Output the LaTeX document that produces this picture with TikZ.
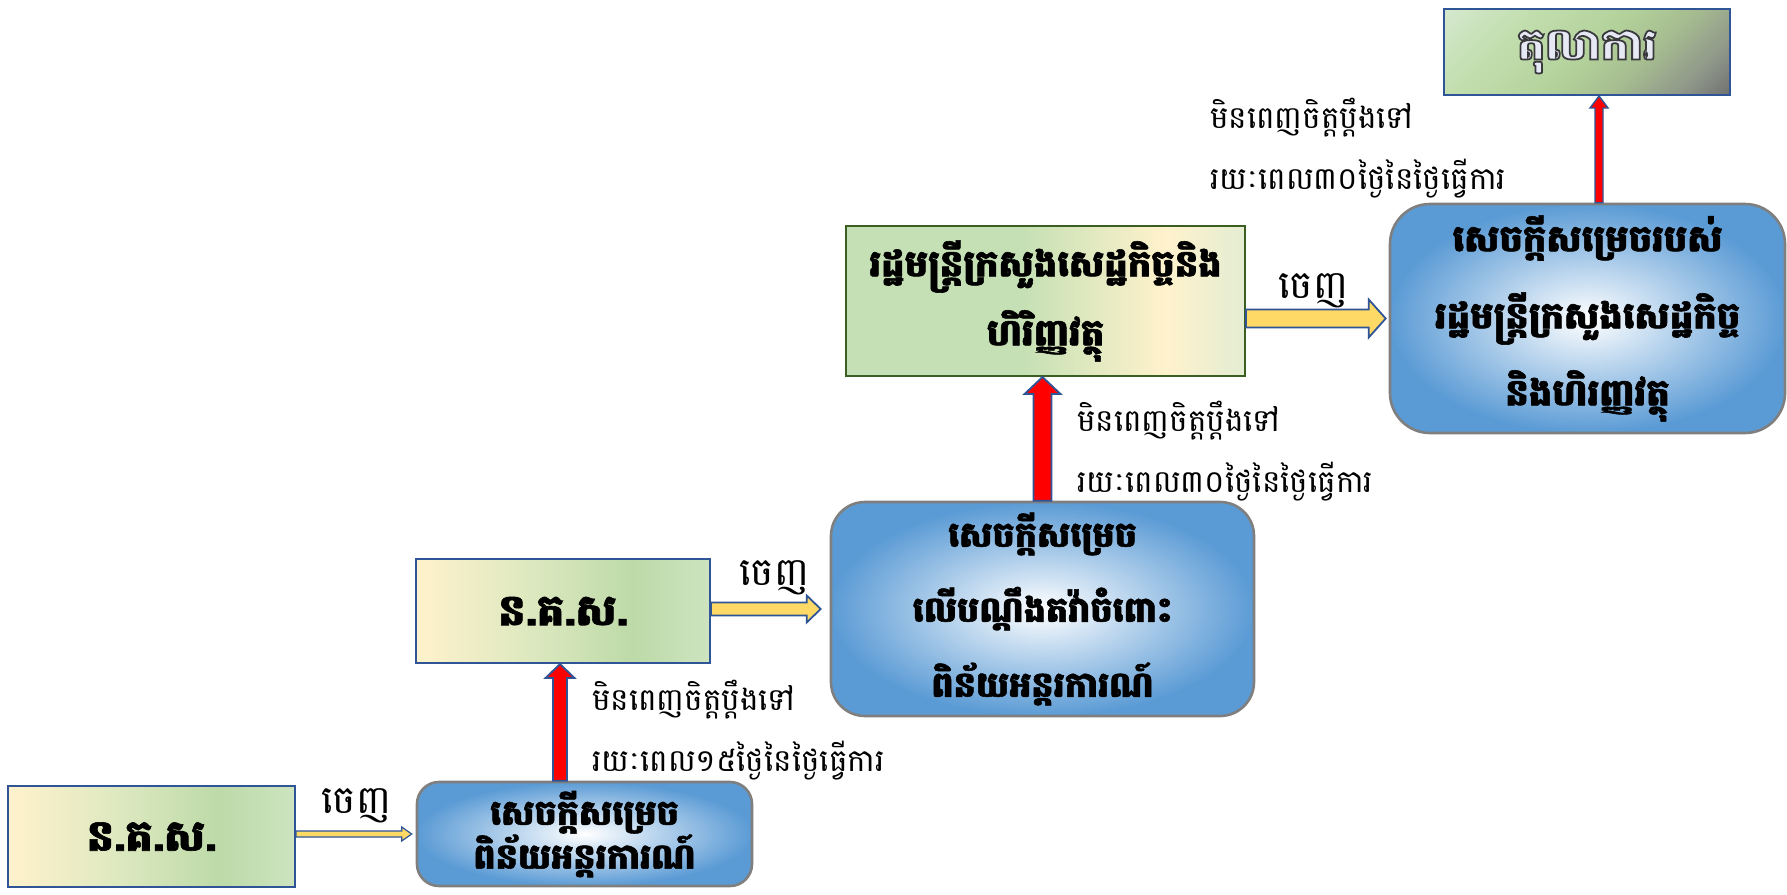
\documentclass[tikz,border=0pt]{standalone}
\usepackage{fontspec}
\newfontfamily\kh[Script=Khmer, BoldFeatures={FakeBold=1.5}]{Battambang}
\newfontfamily\khout[Script=Khmer, BoldFeatures={FakeBold=4}]{Battambang}
\usetikzlibrary{calc}
\definecolor{bordblue}{HTML}{2F5597}
\definecolor{bordgreen}{HTML}{3B5E23}
\definecolor{bordgray}{HTML}{7F7F7F}
\definecolor{boxblue}{HTML}{5B9BD5}
\definecolor{cream}{HTML}{FFF2CC}
\definecolor{midgreen}{HTML}{DCE8BF}
\definecolor{green1}{HTML}{BDDAA8}
\definecolor{green2}{HTML}{CDE4C0}
\definecolor{egreen}{HTML}{C5E0B4}
\definecolor{eright}{HTML}{E4EDD3}
\definecolor{gc1}{HTML}{D4E8CD}
\definecolor{gc2}{HTML}{C2DEAE}
\definecolor{gc3}{HTML}{B3D29B}
\definecolor{gc4}{HTML}{A7BE90}
\definecolor{gc5}{HTML}{90998A}
\definecolor{gc6}{HTML}{6F6F6F}
\definecolor{arryellow}{HTML}{FFD966}
\definecolor{outfill}{HTML}{E6E8F4}
\pgfdeclarehorizontalshading{creamgreen}{100bp}{color(0bp)=(cream); color(25bp)=(cream); color(45bp)=(midgreen); color(62bp)=(green1); color(75bp)=(green2); color(100bp)=(green2)}
\pgfdeclarehorizontalshading{greencream}{100bp}{color(0bp)=(egreen); color(25bp)=(egreen); color(47bp)=(egreen); color(65bp)=(cream); color(75bp)=(eright); color(100bp)=(eright)}
\pgfdeclarehorizontalshading{courtshade}{100bp}{color(0bp)=(gc1); color(15bp)=(gc1); color(32bp)=(gc2); color(50bp)=(gc3); color(62bp)=(gc4); color(75bp)=(gc5); color(86bp)=(gc6); color(100bp)=(gc6)}
% light glyphs with a dark stroked outline
\newcommand\khoutline[1]{{\khout\bfseries\color{outfill}\special{pdf:literal direct 0.22 0.22 0.24 RG}#1}}
\newcommand\harr[7]{%
  \path[#1] let \p1=(#2), \p2=(#3) in
    (\x1,\y2+#4) -- (\x2-#7-#6,\y2+#4) -- (\x2-#7-#6,\y2+#5) -- (\x2-#7,\y2)
    -- (\x2-#7-#6,\y2-#5) -- (\x2-#7-#6,\y2-#4) -- (\x1,\y2-#4) -- cycle;}
\newcommand\varr[7]{%
  \path[#1] let \p1=(#2), \p2=(#3) in
    (\x2+#4-#5,\y1) -- (\x2+#4-#5,\y2-#7) -- (\x2+#4-#6,\y2-#7) -- (\x2+#4,\y2)
    -- (\x2+#4+#6,\y2-#7) -- (\x2+#4+#5,\y2-#7) -- (\x2+#4+#5,\y1) -- cycle;}
\tikzset{
  greenbox/.style={draw=bordblue, line width=2pt, shade, shading=creamgreen, inner sep=0pt},
  bluebox/.style={draw=bordgray, line width=2.6pt, inner color=white, outer color=boxblue, inner sep=0pt},
  boxtext/.style={font=\kh\bfseries\fontsize{37}{40}\selectfont, align=center, text=black},
  lbl/.style={font=\kh\fontsize{31}{61}\selectfont, align=left, inner sep=0pt, text=black},
  outlbl/.style={font=\kh\fontsize{39}{40}\selectfont, inner sep=0pt, text=black},
  redarr/.style={fill=red, draw=bordblue, line width=1.8pt},
  yelarr/.style={fill=arryellow, draw=bordblue, line width=1.8pt},
}
\begin{document}
\begin{tikzpicture}[x=1pt,y=-1pt]
\useasboundingbox (0,0) rectangle (1787,894);
\fill[white] (0,0) rectangle (1787,894);
% boxes
\node[greenbox, boxtext, minimum width=287pt, minimum height=101pt, font=\kh\bfseries\fontsize{43}{45}\selectfont] (A) at (151.5,836.5) {ន.គ.ស.};
\node[bluebox, boxtext, rounded corners=22pt, minimum width=335pt, minimum height=104pt, font=\kh\bfseries\fontsize{35}{37}\selectfont] (B) at (584.5,834) {សេចក្តីសម្រេច\\ពិន័យអន្តរការណ៍};
\node[greenbox, boxtext, minimum width=294pt, minimum height=104pt, font=\kh\bfseries\fontsize{43}{45}\selectfont] (C) at (563,611) {ន.គ.ស.};
\node[bluebox, boxtext, rounded corners=34pt, minimum width=423pt, minimum height=214pt, font=\kh\bfseries\fontsize{35}{75}\selectfont] (D) at (1042.5,609) {សេចក្តីសម្រេច\\លើបណ្តឹងតវ៉ាចំពោះ\\ពិន័យអន្តរការណ៍};
\node[greenbox, boxtext, draw=bordgreen, shading=greencream, minimum width=399pt, minimum height=150pt, font=\kh\bfseries\fontsize{37}{69}\selectfont] (E) at (1045.5,301) {រដ្ឋមន្ត្រីក្រសួងសេដ្ឋកិច្ចនិង\\ហិរិញ្ញវត្ថុ};
\node[bluebox, boxtext, rounded corners=40pt, minimum width=395pt, minimum height=229pt, font=\kh\bfseries\fontsize{37}{77}\selectfont] (F) at (1587.5,318.5) {សេចក្តីសម្រេចរបស់\\រដ្ឋមន្ត្រីក្រសួងសេដ្ឋកិច្ច\\និងហិរញ្ញវត្ថុ};
\node[greenbox, boxtext, shading=courtshade, shading angle=-45, minimum width=286pt, minimum height=86pt, font=\khout\bfseries\fontsize{44}{46}\selectfont] (G) at (1587,52) {\khoutline{តុលាការ}};
% labels
\node[outlbl] (o1) at (356,806) {ចេញ};
\node[outlbl] (o2) at (774,578) {ចេញ};
\node[outlbl] (o3) at (1313,291) {ចេញ};
\node[lbl, anchor=west] (m1) at (592,730) {មិនពេញចិត្តប្តឹងទៅ\\រយៈពេល១៥ថ្ងៃនៃថ្ងៃធ្វើការ};
\node[lbl, anchor=west] (m2) at (1077,451.5) {មិនពេញចិត្តប្តឹងទៅ\\រយៈពេល៣០ថ្ងៃនៃថ្ងៃធ្វើការ};
\node[lbl, anchor=west] (m3) at (1210,148) {មិនពេញចិត្តប្តឹងទៅ\\រយៈពេល៣០ថ្ងៃនៃថ្ងៃធ្វើការ};
% arrows
\harr{yelarr, line width=1.2pt}{A.east}{B.west}{3pt}{7pt}{10pt}{4pt}
\harr{yelarr}{C.east}{D.west}{6.5pt}{13.5pt}{14pt}{9pt}
\harr{yelarr}{E.east}{F.west}{9pt}{19pt}{17pt}{3pt}
\varr{redarr}{B.north}{C.south}{-3pt}{7pt}{14.5pt}{14pt}
\varr{redarr}{D.north}{E.south}{-3pt}{9pt}{18pt}{17pt}
\varr{redarr, line width=1.4pt}{F.north}{G.south}{12pt}{4pt}{9pt}{12pt}
\end{tikzpicture}
\end{document}
